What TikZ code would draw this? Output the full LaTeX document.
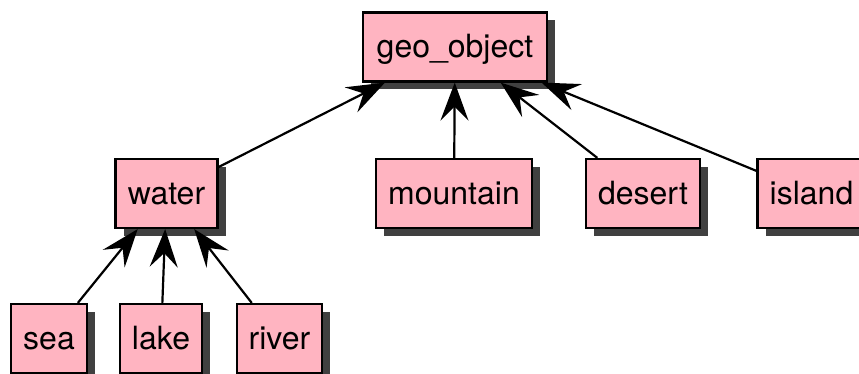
\documentclass[tikz,border=0pt]{standalone}
\usepackage{fontspec}
\setmainfont{TeX Gyre Heros}
\usetikzlibrary{arrows.meta,shadows}
\definecolor{boxpink}{HTML}{FFB4C1}
\definecolor{shadowgray}{HTML}{404040}
\begin{document}
\begin{tikzpicture}[x=0.5pt,y=-0.5pt,
  box/.style={draw=black, line width=1.1pt, fill=boxpink, rectangle,
    minimum height=34.5pt, inner sep=0pt, text height=11.6pt, text depth=1pt,
    font=\fontsize{16}{19}\selectfont,
    drop shadow={shadow xshift=4pt, shadow yshift=-4pt, fill=shadowgray, opacity=1}},
  isa/.style={line width=1.1pt, -{Stealth[length=19pt, width=14pt, inset=7pt]}}]
\useasboundingbox (0,0) rectangle (859,374);
\node[box, minimum width=92pt] (geo) at (455,47) {geo\_object};
\node[box, minimum width=51pt] (water) at (166.5,193.5) {water};
\node[box, minimum width=78pt] (mountain) at (454,193.5) {mountain};
\node[box, minimum width=57pt] (desert) at (643,193.5) {desert};
\node[box, minimum width=54pt] (island) at (811.5,193.5) {island};
\node[box, minimum width=38pt] (sea) at (49,338.5) {sea};
\node[box, minimum width=41pt] (lake) at (161,338.5) {lake};
\node[box, minimum width=42.5pt] (river) at (279.5,338.5) {river};
\draw[isa] (water) -- (geo);
\draw[isa] (mountain) -- (geo);
\draw[isa] (desert) -- (geo);
\draw[isa] (island) -- (geo);
\draw[isa] (sea) -- (water);
\draw[isa] (lake) -- (water);
\draw[isa] (river) -- (water);
\end{tikzpicture}
\end{document}
